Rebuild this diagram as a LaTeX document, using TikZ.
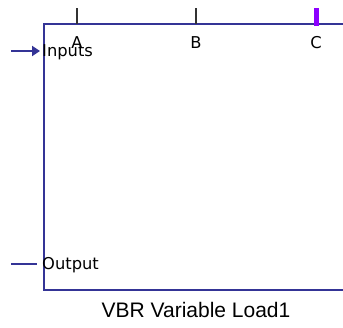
\documentclass[tikz,border=0pt]{standalone}
\usepackage{fontspec}
\setmainfont{Liberation Sans}
\newfontfamily\lblfont{DejaVu Sans}
\usetikzlibrary{arrows.meta}
\definecolor{boxblue}{RGB}{52,52,150}
\definecolor{tickpurple}{RGB}{140,0,255}
\tikzset{
  boxline/.style={draw=boxblue, line width=2.4pt},
  pinline/.style={draw=boxblue, line width=1.8pt},
  tickline/.style={draw=black!80, line width=1.3pt},
  lbl/.style={font=\lblfont\fontsize{16.3}{19}\selectfont, text=black, inner sep=0pt},
}
\begin{document}
\begin{tikzpicture}[x=1pt,y=-1pt]
\useasboundingbox (0,0) rectangle (343,327);
\fill[white] (0,0) rectangle (343,327);
% box
\coordinate (tl) at (44,24);
\coordinate (tr) at (343,24);
\coordinate (bl) at (44,290);
\coordinate (br) at (343,290);
\draw[boxline] (tr) -- (tl) -- (bl) -- (br);
% ticks
\coordinate (ta0) at (77,8); \coordinate (ta1) at (77,24);
\coordinate (tb0) at (196,8); \coordinate (tb1) at (196,24);
\coordinate (tc0) at (316,8); \coordinate (tc1) at (316,26);
\draw[tickline] (ta0) -- (ta1);
\draw[tickline] (tb0) -- (tb1);
\draw[draw=tickpurple, line width=5pt] (tc0) -- (tc1);
\node[lbl] (A) at (77,43) {A};
\node[lbl] (B) at (196,43) {B};
\node[lbl] (C) at (316,43) {C};
% inputs
\coordinate (in0) at (11,51);
\coordinate (in1) at (40,51);
\draw[pinline, -{Triangle[length=8pt,width=10pt]}] (in0) -- (in1);
\node[lbl, anchor=west] (inputs) at (42,52) {Inputs};
% output
\coordinate (out0) at (11,264);
\coordinate (out1) at (37,264);
\draw[pinline] (out0) -- (out1);
\node[lbl, anchor=west] (output) at (42,265) {Output};
% title
\node[font=\fontsize{21}{24}\selectfont, inner sep=0pt] (title) at (196,310) {VBR Variable Load1};
\end{tikzpicture}
\end{document}
